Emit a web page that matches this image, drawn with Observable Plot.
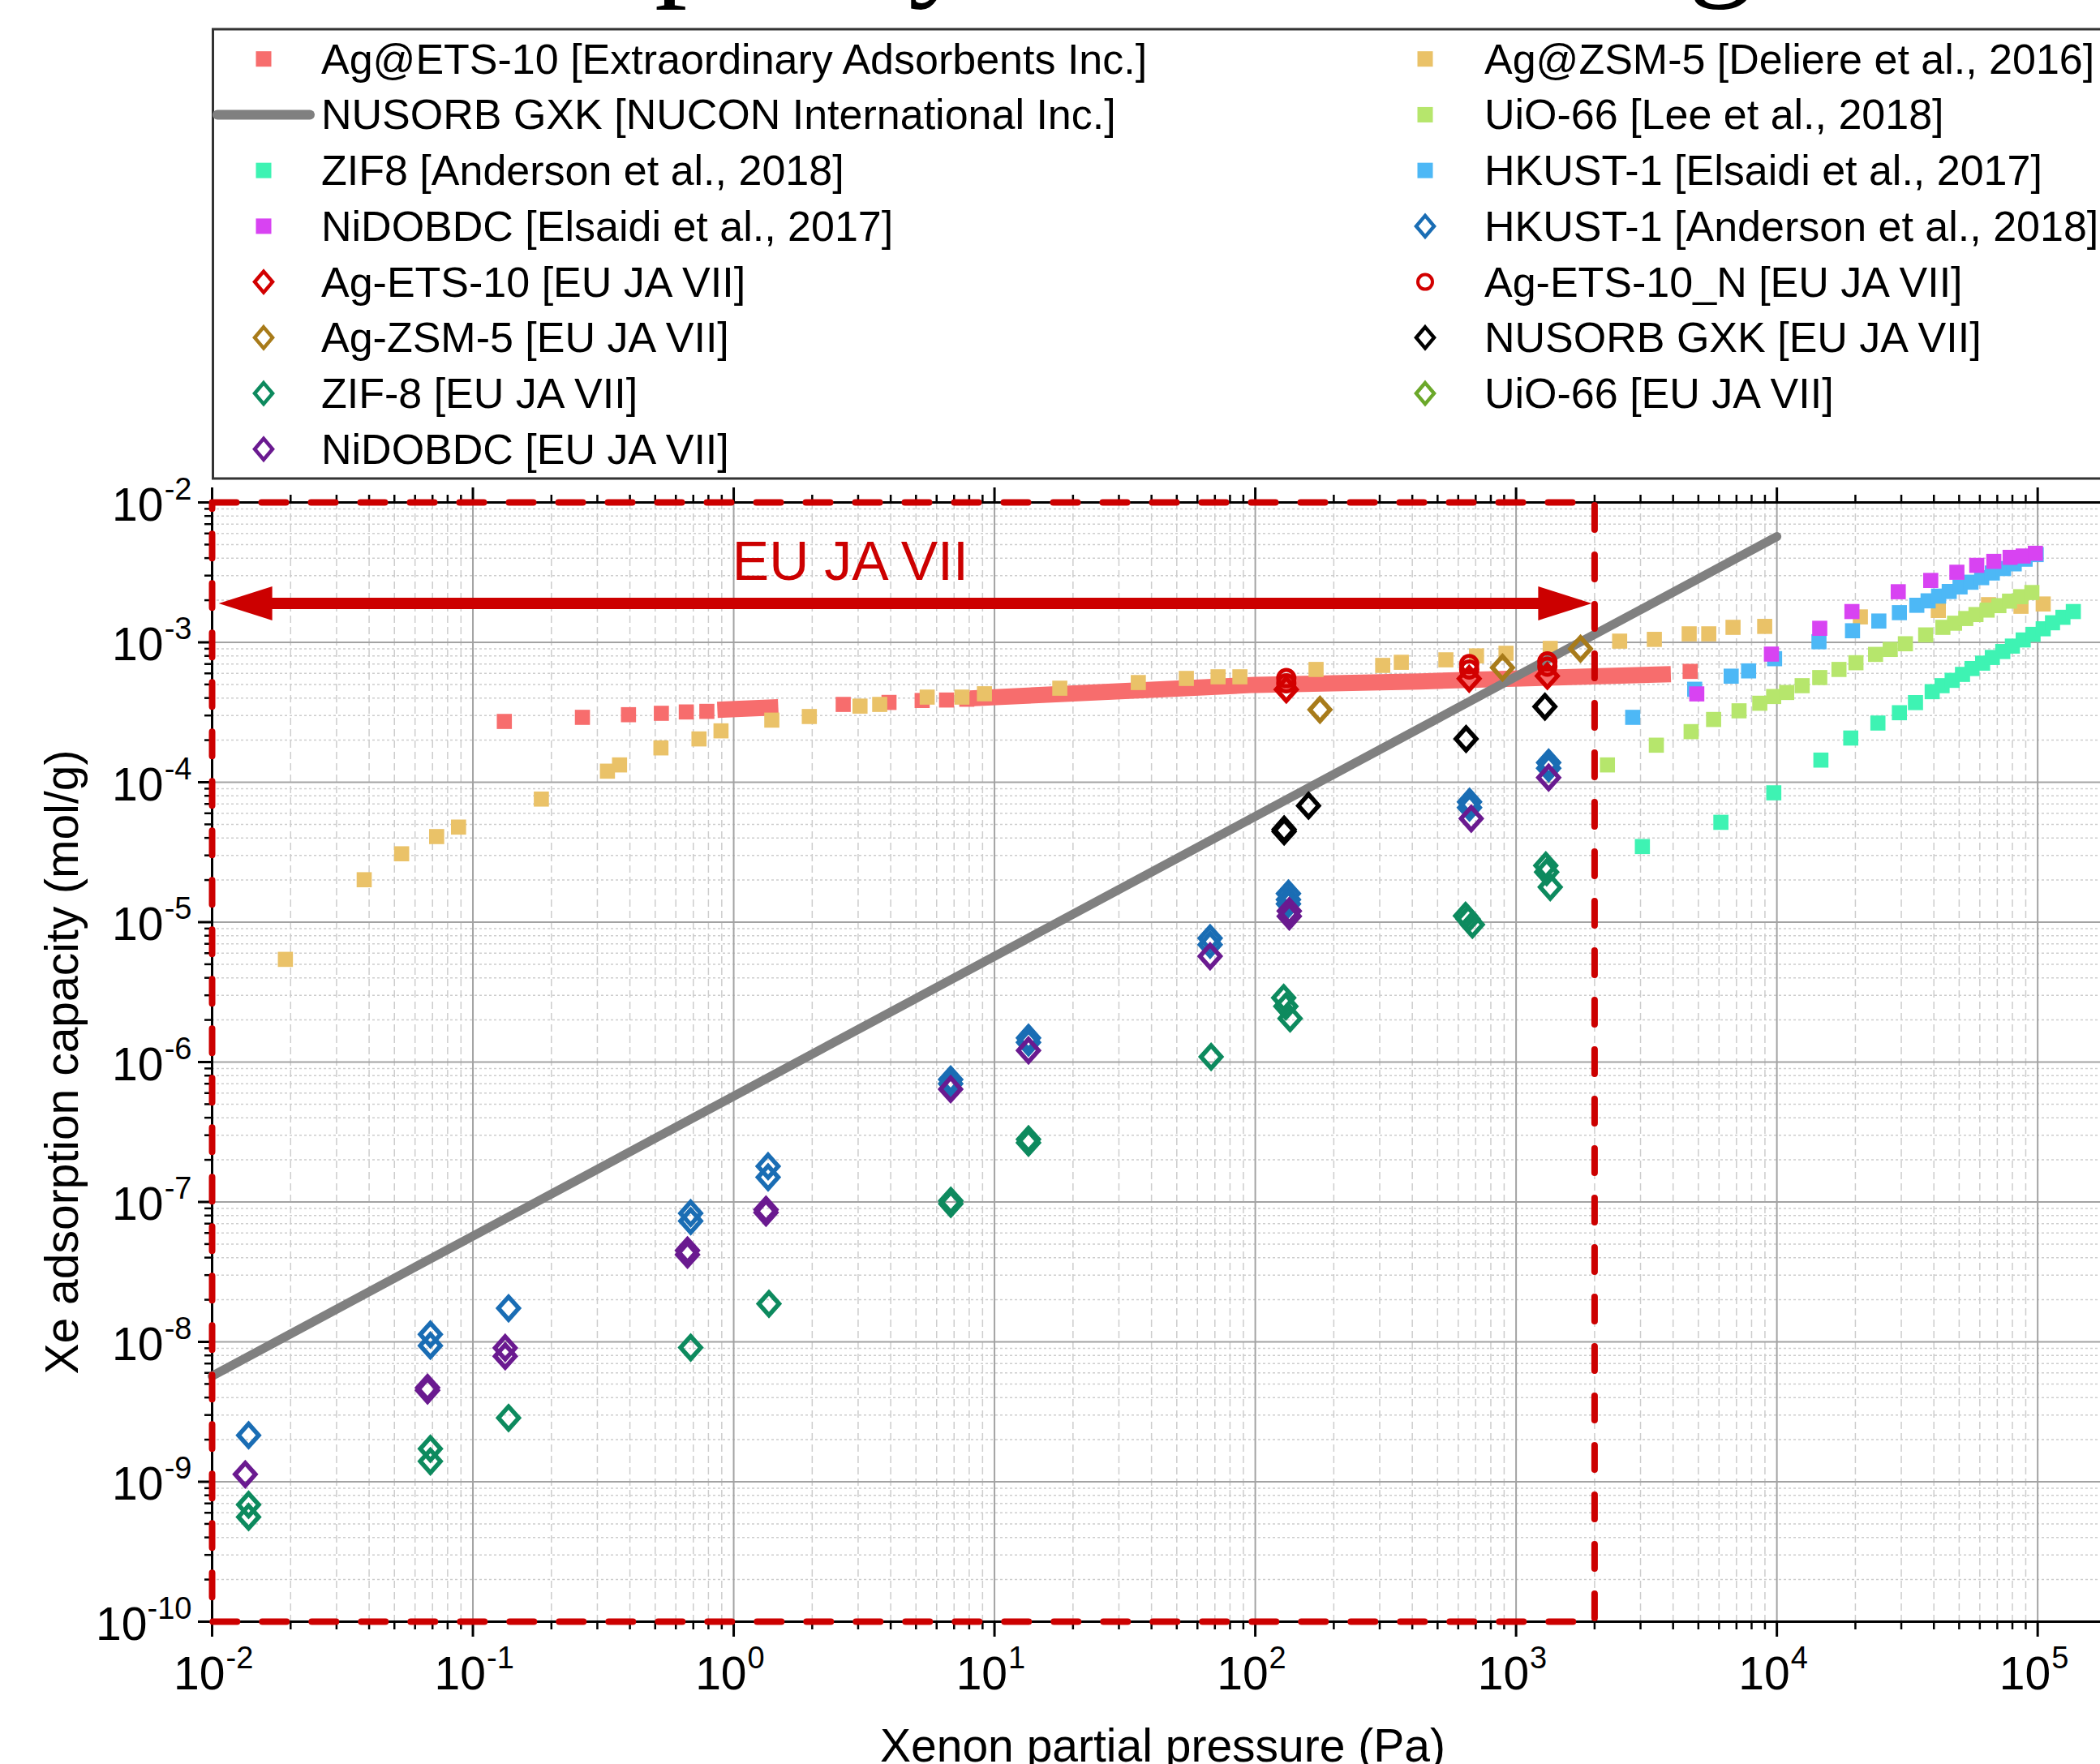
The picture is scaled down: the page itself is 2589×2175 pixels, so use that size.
<!DOCTYPE html>
<html><head><meta charset="utf-8">
<script src="https://cdn.jsdelivr.net/npm/d3@7"></script>
<script src="https://cdn.jsdelivr.net/npm/@observablehq/plot@0.6"></script>
<style>
html,body{margin:0;padding:0;background:#fff;}
body{width:2589px;height:2175px;overflow:hidden;position:relative;}
#header svg,#chart svg{display:block;}
#chart{position:relative;z-index:2;}
</style></head><body>
<div id="header"></div>
<div id="chart"></div>
<script>
// ---------- data (pressure Pa, capacity mol/g) ----------
const agEts10Ext = [[0.132,2.72e-4],[0.263,2.91e-4],[0.395,3.04e-4],[0.528,3.11e-4],[0.658,3.18e-4],[0.789,3.21e-4],[2.63,3.6e-4],[3.94,3.72e-4],[5.28,3.84e-4],[6.55,3.87e-4],[7.83,3.92e-4],[4650,6.2e-4]];
const agEts10ExtBandA = [[0.93,3.31e-4],[1.38,3.42e-4]];
const agEts10ExtBandB = [[8.65,4.0e-4],[100,4.97e-4],[428,5.26e-4],[3650,5.9e-4]];
const agZsm5Deliere = [[0.0191,5.42e-6],[0.0383,2.01e-5],[0.0533,3.08e-5],[0.0726,4.09e-5],[0.0881,4.78e-5],[0.183,7.58e-5],[0.328,1.2e-4],[0.365,1.33e-4],[0.526,1.76e-4],[0.736,2.04e-4],[0.894,2.33e-4],[1.40,2.78e-4],[1.95,2.95e-4],[3.05,3.5e-4],[3.63,3.6e-4],[5.52,4.06e-4],[7.5,4.06e-4],[9.15,4.29e-4],[17.8,4.7e-4],[35.6,5.16e-4],[54.4,5.52e-4],[72,5.67e-4],[87.3,5.67e-4],[171,6.4e-4],[308,6.84e-4],[363,7.2e-4],[538,7.5e-4],[705,8.0e-4],[915,8.35e-4],[1352,9.05e-4],[2495,1.02e-3],[3390,1.05e-3],[4610,1.15e-3],[5480,1.15e-3],[6790,1.28e-3],[8980,1.30e-3],[20900,1.52e-3],[41600,1.69e-3],[64800,1.86e-3],[86300,1.81e-3],[105000,1.88e-3]];
const zif8Anderson = [[3050,3.47e-5],[6100,5.17e-5],[9730,8.4e-5],[14750,1.44e-4],[19200,2.07e-4],[24400,2.65e-4],[29500,3.14e-4],[34000,3.71e-4],[39400,4.44e-4],[43000,4.9e-4],[47000,5.35e-4],[51500,5.9e-4],[56000,6.5e-4],[61500,7.1e-4],[67000,7.8e-4],[73500,8.6e-4],[80000,9.4e-4],[88000,1.04e-3],[96000,1.14e-3],[105000,1.25e-3],[114000,1.38e-3],[125000,1.51e-3],[137000,1.66e-3]];
const uio66Lee = [[2240,1.33e-4],[3450,1.84e-4],[4690,2.30e-4],[5720,2.81e-4],[7160,3.24e-4],[8600,3.67e-4],[9720,4.1e-4],[10900,4.38e-4],[12500,4.9e-4],[14600,5.6e-4],[17300,6.4e-4],[20100,7.15e-4],[23900,8.2e-4],[27200,8.9e-4],[31100,9.77e-4],[37200,1.13e-3],[43300,1.28e-3],[48000,1.37e-3],[53000,1.48e-3],[58000,1.58e-3],[64000,1.70e-3],[71000,1.83e-3],[78000,1.97e-3],[86000,2.12e-3],[95000,2.27e-3]];
const hkustElsaidi = [[2800,2.91e-4],[4840,4.62e-4],[6680,5.73e-4],[7790,6.25e-4],[9800,7.64e-4],[14500,1.01e-3],[19500,1.21e-3],[24600,1.42e-3],[29500,1.63e-3],[34400,1.84e-3],[38000,1.98e-3],[41700,2.14e-3],[45800,2.31e-3],[50400,2.49e-3],[55500,2.69e-3],[61000,2.9e-3],[67000,3.13e-3],[74000,3.37e-3],[81300,3.64e-3],[89500,3.93e-3],[98700,4.24e-3]];
const nidobdcElsaidi = [[4930,4.28e-4],[9530,8.24e-4],[14600,1.26e-3],[19400,1.66e-3],[29200,2.30e-3],[38900,2.77e-3],[49000,3.17e-3],[58400,3.55e-3],[67900,3.79e-3],[78400,4.05e-3],[88000,4.14e-3],[98000,4.33e-3]];
const nusorbNucon = [[0.01,5.7e-9],[10000,5.7e-3]];
const hkustAnderson = [[0.0138,2.15e-9],[0.0687,1.13e-8],[0.0687,9.4e-9],[0.137,1.74e-8],[0.684,8.3e-8],[0.684,7.3e-8],[1.355,1.8e-7],[1.355,1.5e-7],[6.79,7.5e-7],[6.79,7.0e-7],[13.5,1.49e-6],[13.5,1.38e-6],[67.1,7.67e-6],[67.1,6.9e-6],[134,1.6e-5],[134,1.45e-5],[134,1.35e-5],[663,7.24e-5],[663,6.6e-5],[1333,1.38e-4],[1333,1.26e-4]];
const nidobdcEU = [[0.0134,1.13e-9],[0.067,4.7e-9],[0.067,4.5e-9],[0.133,9.05e-9],[0.133,7.9e-9],[0.665,4.5e-8],[0.665,4.2e-8],[1.33,8.8e-8],[1.33,8.4e-8],[6.79,6.4e-7],[13.5,1.21e-6],[67.1,5.7e-6],[135,1.2e-5],[135,1.1e-5],[673,5.5e-5],[1333,1.08e-4]];
const zif8EU = [[0.0138,6.85e-10],[0.0138,5.6e-10],[0.0687,1.72e-9],[0.0687,1.4e-9],[0.137,2.86e-9],[0.684,9.1e-9],[1.365,1.87e-8],[6.8,1.02e-7],[6.8,9.7e-8],[13.5,2.8e-7],[13.5,2.65e-7],[67.7,1.09e-6],[128.5,2.88e-6],[131,2.5e-6],[136,2.05e-6],[640,1.11e-5],[655,1.05e-5],[680,9.6e-6],[1300,2.54e-5],[1310,2.28e-5],[1352,1.78e-5]];
const nusorbEU = [[129,4.6e-5],[129,4.45e-5],[160,6.8e-5],[643,2.04e-4],[1290,3.47e-4]];
const agEts10EU = [[131.5,4.6e-4],[661,5.5e-4],[1318,5.75e-4]];
const agEts10NEU = [[131.5,5.55e-4],[131.5,5.1e-4],[661,7.0e-4],[661,6.4e-4],[1318,7.3e-4],[1318,6.7e-4]];
const agZsm5EU = [[177,3.3e-4],[887,6.6e-4],[1766,9.0e-4]];

// EU JA VII range annotation
const euBox = [[0.01,1e-2],[2000,1e-2],[2000,1e-10],[0.01,1e-10],[0.01,1e-2]];
const arrowX = [0.0106, 1950];
const arrowY = 1.9e-3;
const euLabel = [{x: 2.8, y: 2.8e-3, text: "EU JA VII"}];

// axes
const xDecades = [1e-2,1e-1,1,10,100,1e3,1e4,1e5];
const xExponents = ["-2","-1","0","1","2","3","4","5"];
const yDecades = [1e-10,1e-9,1e-8,1e-7,1e-6,1e-5,1e-4,1e-3,1e-2];
const yExponents = ["-10","-9","-8","-7","-6","-5","-4","-3","-2"];
const xTitle = "Xenon partial pressure (Pa)";
const yTitle = "Xe adsorption capacity (mol/g)";
const titleText = "Xe capacity at low loading";

// legend
const legendCol1 = ["Ag@ETS-10 [Extraordinary Adsorbents Inc.]","NUSORB GXK [NUCON International Inc.]","ZIF8 [Anderson et al., 2018]","NiDOBDC [Elsaidi et al., 2017]","Ag-ETS-10 [EU JA VII]","Ag-ZSM-5 [EU JA VII]","ZIF-8 [EU JA VII]","NiDOBDC [EU JA VII]"];
const legendCol2 = ["Ag@ZSM-5 [Deliere et al., 2016]","UiO-66 [Lee et al., 2018]","HKUST-1 [Elsaidi et al., 2017]","HKUST-1 [Anderson et al., 2018]","Ag-ETS-10_N [EU JA VII]","NUSORB GXK [EU JA VII]","UiO-66 [EU JA VII]"];

// ---------- styles ----------
const C = {
  "Ag@ETS-10 [Extraordinary Adsorbents Inc.]": ["square","#F76D6D"],
  "NUSORB GXK [NUCON International Inc.]": ["line","#808080"],
  "ZIF8 [Anderson et al., 2018]": ["square","#3EF3B3"],
  "NiDOBDC [Elsaidi et al., 2017]": ["square","#D843F2"],
  "Ag-ETS-10 [EU JA VII]": ["diamond","#D20000"],
  "Ag-ZSM-5 [EU JA VII]": ["diamond","#A87B1A"],
  "ZIF-8 [EU JA VII]": ["diamond","#0D8A5E"],
  "NiDOBDC [EU JA VII]": ["diamond","#6A1A90"],
  "Ag@ZSM-5 [Deliere et al., 2016]": ["square","#EAC268"],
  "UiO-66 [Lee et al., 2018]": ["square","#B6E66C"],
  "HKUST-1 [Elsaidi et al., 2017]": ["square","#4DB8F6"],
  "HKUST-1 [Anderson et al., 2018]": ["diamond","#1A6DB4"],
  "Ag-ETS-10_N [EU JA VII]": ["circle","#D20000"],
  "NUSORB GXK [EU JA VII]": ["diamond","#000000"],
  "UiO-66 [EU JA VII]": ["diamond","#6BA82A"]
};
const col = k => C[k][1];
const RED = "#CC0000";
const FONT = "'Liberation Sans', Arial, Helvetica, sans-serif";

// ---------- header: clipped title + legend ----------
const header = d3.select("#header").append("svg").attr("width", 2589).attr("height", 600).style("overflow", "hidden");
header.append("text").attr("x", 436).attr("y", -22)
  .attr("font-family", "'Liberation Serif', 'Times New Roman', serif").attr("font-size", 161).text(titleText);
header.append("rect").attr("x", 262.5).attr("y", 36).attr("width", 2600).attr("height", 554)
  .attr("fill", "white").attr("stroke", "#333").attr("stroke-width", 3);
function legendItem(label, sx, tx, cy) {
  const [kind, color] = C[label];
  const g = header.append("g");
  if (kind === "square") g.append("rect").attr("x", sx-9.5).attr("y", cy-9.5).attr("width", 19).attr("height", 19).attr("fill", color);
  if (kind === "line") g.append("line").attr("x1", 268).attr("x2", 382).attr("y1", cy).attr("y2", cy).attr("stroke", color).attr("stroke-width", 12).attr("stroke-linecap", "round");
  if (kind === "diamond") g.append("path").attr("d", `M${sx},${cy-13}L${sx+11},${cy}L${sx},${cy+13}L${sx-11},${cy}Z`).attr("fill", "none").attr("stroke", color).attr("stroke-width", 4.5);
  if (kind === "circle") g.append("circle").attr("cx", sx).attr("cy", cy).attr("r", 9).attr("fill", "none").attr("stroke", color).attr("stroke-width", 4);
  g.append("text").attr("x", tx).attr("y", cy + 18).attr("font-family", FONT).attr("font-size", 52).text(label);
}
const rowY = i => 72.7 + i * 68.73;
legendCol1.forEach((l, i) => legendItem(l, 325, 396, rowY(i)));
legendCol2.forEach((l, i) => legendItem(l, 1757, 1830, rowY(i)));

// ---------- chart ----------
const minorX = xDecades.flatMap(d => [2,3,4,5,6,7,8,9].map(m => m * d)).filter(v => v < 1.74e5);
const minorY = yDecades.slice(0, -1).flatMap(d => [2,3,4,5,6,7,8,9].map(m => m * d));
const px = d => d[0], py = d => d[1];
const diamondSym = {draw(c){ c.moveTo(0,-14); c.lineTo(12.5,0); c.lineTo(0,14); c.lineTo(-12.5,0); c.closePath(); }};
const sq = (data, key) => Plot.dot(data, {x: px, y: py, symbol: "square", r: 10.5, fill: col(key), stroke: "none"});
const dm = (data, key) => Plot.dot(data, {x: px, y: py, symbol: diamondSym, r: 12, fill: "none", stroke: col(key), strokeWidth: 5.5});
const headRight = {draw(c){ c.moveTo(0,0); c.lineTo(-66,-21); c.lineTo(-66,21); c.closePath(); }};
const headLeft = {draw(c){ c.moveTo(0,0); c.lineTo(66,-21); c.lineTo(66,21); c.closePath(); }};
const blank = () => "";

const chart = Plot.plot({
  width: 2589, height: 1575,
  marginLeft: 261, marginRight: 0, marginTop: 19, marginBottom: 176,
  x: {type: "log", domain: [0.01, 1.74e5], axis: null},
  y: {type: "log", domain: [1e-10, 1e-2], axis: null},
  style: {fontFamily: FONT, background: "transparent", color: "black", overflow: "visible"},
  marks: [
    Plot.ruleX(minorX, {stroke: "#cdcdcd", strokeWidth: 1.5, strokeDasharray: "9,5"}),
    Plot.ruleY(minorY, {stroke: "#cdcdcd", strokeWidth: 1.5, strokeDasharray: "3,3"}),
    Plot.ruleX(xDecades, {stroke: "#a3a3a3", strokeWidth: 2}),
    Plot.ruleY(yDecades, {stroke: "#a3a3a3", strokeWidth: 2}),
    // ticks
    Plot.axisX({ticks: xDecades, anchor: "bottom", tickSize: 19, tickFormat: blank, strokeWidth: 3, label: null}),
    Plot.axisX({ticks: minorX, anchor: "bottom", tickSize: 10, tickFormat: blank, strokeWidth: 2.5, label: null}),
    Plot.axisX({ticks: xDecades, anchor: "top", tickSize: 19, tickFormat: blank, strokeWidth: 3, label: null}),
    Plot.axisX({ticks: minorX, anchor: "top", tickSize: 10, tickFormat: blank, strokeWidth: 2.5, label: null}),
    Plot.axisY({ticks: yDecades, anchor: "left", tickSize: 17, tickFormat: blank, strokeWidth: 3, label: null}),
    Plot.axisY({ticks: minorY, anchor: "left", tickSize: 9, tickFormat: blank, strokeWidth: 2.5, label: null}),
    Plot.ruleY([1e-2, 1e-10], {stroke: "black", strokeWidth: 3}),
    Plot.ruleX([0.01], {stroke: "black", strokeWidth: 3}),
    // literature squares
    Plot.line(agEts10ExtBandA, {x: px, y: py, stroke: col("Ag@ETS-10 [Extraordinary Adsorbents Inc.]"), strokeWidth: 20, strokeLinecap: "square"}),
    Plot.line(agEts10ExtBandB, {x: px, y: py, stroke: col("Ag@ETS-10 [Extraordinary Adsorbents Inc.]"), strokeWidth: 20, strokeLinecap: "square"}),
    sq(agEts10Ext, "Ag@ETS-10 [Extraordinary Adsorbents Inc.]"),
    sq(agZsm5Deliere, "Ag@ZSM-5 [Deliere et al., 2016]"),
    sq(zif8Anderson, "ZIF8 [Anderson et al., 2018]"),
    sq(uio66Lee, "UiO-66 [Lee et al., 2018]"),
    sq(hkustElsaidi, "HKUST-1 [Elsaidi et al., 2017]"),
    sq(nidobdcElsaidi, "NiDOBDC [Elsaidi et al., 2017]"),
    Plot.line(nusorbNucon, {x: px, y: py, stroke: col("NUSORB GXK [NUCON International Inc.]"), strokeWidth: 11, strokeLinecap: "round"}),
    // EU JA VII diamonds
    dm(hkustAnderson, "HKUST-1 [Anderson et al., 2018]"),
    dm(nidobdcEU, "NiDOBDC [EU JA VII]"),
    dm(zif8EU, "ZIF-8 [EU JA VII]"),
    dm(nusorbEU, "NUSORB GXK [EU JA VII]"),
    dm(agEts10EU, "Ag-ETS-10 [EU JA VII]"),
    dm(agZsm5EU, "Ag-ZSM-5 [EU JA VII]"),
    Plot.dot(agEts10NEU, {x: px, y: py, symbol: "circle", r: 10, fill: "none", stroke: col("Ag-ETS-10_N [EU JA VII]"), strokeWidth: 5}),
    // EU JA VII range
    Plot.line(euBox, {x: px, y: py, stroke: RED, strokeWidth: 8, strokeDasharray: "30,31"}),
    Plot.ruleY([arrowY], {x1: arrowX[0], x2: arrowX[1], stroke: RED, strokeWidth: 14, insetLeft: 60, insetRight: 60}),
    Plot.dot([arrowX[0]], {x: d => d, y: () => arrowY, symbol: headLeft, r: 10, fill: RED, stroke: "none"}),
    Plot.dot([arrowX[1]], {x: d => d, y: () => arrowY, symbol: headRight, r: 10, fill: RED, stroke: "none"}),
    Plot.text(euLabel, {x: "x", y: "y", text: "text", fill: RED, fontSize: 68, lineAnchor: "bottom", textAnchor: "middle"}),
    // tick labels
    Plot.text(xDecades, {x: d => d, text: () => "10", frameAnchor: "bottom", textAnchor: "end", lineAnchor: "bottom", dx: 16, dy: 83, fontSize: 57}),
    Plot.text(xDecades, {x: d => d, text: (d, i) => xExponents[i], frameAnchor: "bottom", textAnchor: "start", lineAnchor: "bottom", dx: 17, dy: 57, fontSize: 38}),
    Plot.text(yDecades, {y: d => d, text: () => "10", frameAnchor: "left", textAnchor: "end", lineAnchor: "bottom", dx: -60, dy: 22, fontSize: 57, filter: (d, i) => yExponents[i].length === 2}),
    Plot.text(yDecades, {y: d => d, text: () => "10", frameAnchor: "left", textAnchor: "end", lineAnchor: "bottom", dx: -80, dy: 22, fontSize: 57, filter: (d, i) => yExponents[i].length === 3}),
    Plot.text(yDecades, {y: d => d, text: (d, i) => yExponents[i], frameAnchor: "left", textAnchor: "end", lineAnchor: "bottom", dx: -25, dy: -4, fontSize: 38}),
    // axis titles
    Plot.text([xTitle], {text: d => d, frameAnchor: "bottom", textAnchor: "middle", lineAnchor: "bottom", dx: 8, dy: 172, fontSize: 57}),
    Plot.text([yTitle], {text: d => d, frameAnchor: "left", textAnchor: "middle", lineAnchor: "bottom", rotate: -90, dx: -166, fontSize: 57})
  ]
});
chart.style.overflow = "visible";
document.getElementById("chart").appendChild(chart);
</script></body></html>
